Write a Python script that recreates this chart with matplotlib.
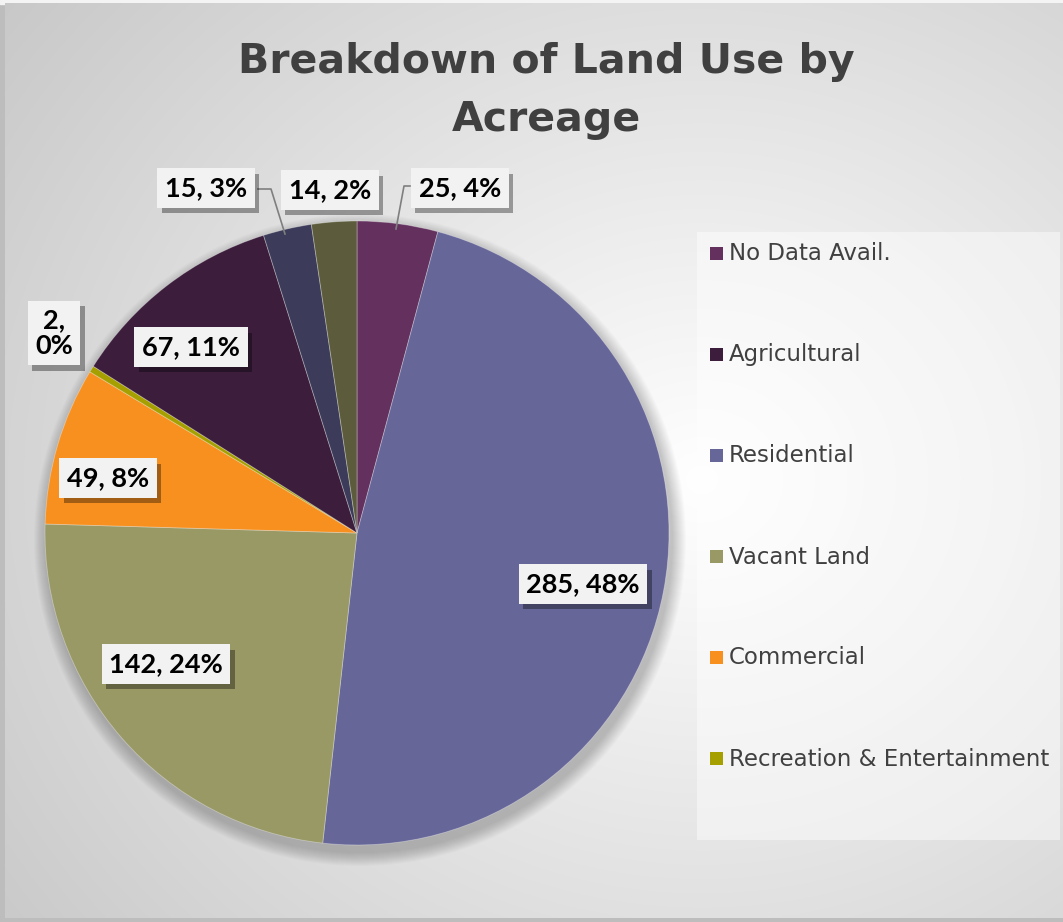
import numpy as np
import matplotlib
matplotlib.use("Agg")
import matplotlib.pyplot as plt
from matplotlib.patches import Rectangle, Circle
import matplotlib.patheffects as pe

# ---------------- data ----------------
categories = ["No Data Avail.", "Residential", "Vacant Land", "Commercial",
              "Recreation & Entertainment", "Agricultural", "Other (unlisted 1)",
              "Other (unlisted 2)"]
acres = [25, 285, 142, 49, 2, 67, 15, 14]
legend_categories = ["No Data Avail.", "Agricultural", "Residential",
                     "Vacant Land", "Commercial", "Recreation & Entertainment"]
title_lines = ["Breakdown of Land Use by", "Acreage"]

# ---------------- style ----------------
colors = ["#64315f", "#666699", "#999966", "#f7901e", "#a5a000",
          "#3c1e3c", "#3c3c5a", "#5c5c3c"]
W, H = 1063, 922
CX, CY, R = 357, 533, 312
# label centres in pixel coords (x, y from top)
label_pos = [(460, 188), (583, 584), (166, 664), (108, 478), (54, 333),
             (191, 347), (206, 188), (330, 190)]
FONT = ["Lato", "DejaVu Sans"]
WIDE = ["DejaVu Sans"]

fig = plt.figure(figsize=(W / 100, H / 100), dpi=100)
ax = fig.add_axes([0, 0, 1, 1])
ax.set_xlim(0, W)
ax.set_ylim(0, H)
ax.set_aspect("equal")
ax.axis("off")


def Y(y):
    return H - y


# background: outer frame + radial gradient panel
fig.patch.set_facecolor("#bdbdbd")
ax.add_patch(Rectangle((0, Y(4)), W, 4, color="#f4f4f4", zorder=0))
yy, xx = np.mgrid[0:H, 0:W]
d = np.sqrt(((xx - 700) / 700.0) ** 2 + ((yy - 480) / 620.0) ** 2)
val = 1.0 - 0.22 * np.clip(d, 0, 1.3) / 1.3
img = np.dstack([val, val, val])
ax.imshow(img, extent=[5, W, Y(918), Y(4)], origin="upper", zorder=0.5,
          aspect="auto", interpolation="bilinear")

# pie soft shadow
for i in range(14):
    ax.add_patch(Circle((CX + 3, Y(CY) - 7), R + 14 - i, color="black",
                        alpha=0.016, lw=0, zorder=1))

total = sum(acres)
wedges, _ = ax.pie(acres, colors=colors, startangle=90, counterclock=False,
                   center=(CX, Y(CY)), radius=R, frame=True,
                   wedgeprops=dict(linewidth=0.6, edgecolor=(1, 1, 1, 0.35)))
for w in wedges:
    w.set_zorder(2)
ax.set_xlim(0, W)
ax.set_ylim(0, H)
ax.axis("off")

# data labels
for v, (lx, ly) in zip(acres, label_pos):
    pct = round(v / total * 100)
    txt = f"{v},\n{pct}%" if v < 5 else f"{v}, {pct}%"
    t = ax.text(lx, Y(ly), txt, ha="center", va="center", fontsize=19.5,
                fontweight="bold", family=FONT, color="black", zorder=5,
                linespacing=1.05,
                bbox=dict(boxstyle="square,pad=0.28", fc="#f2f2f2", ec="none"))
    t.get_bbox_patch().set_path_effects(
        [pe.SimplePatchShadow(offset=(3, -4), shadow_rgbFace="black", alpha=0.35),
         pe.Normal()])

# leader lines
ax.plot([410, 404, 396], [Y(186), Y(186), Y(229)], color="#7f7f7f", lw=1.2, zorder=4)
ax.plot([258, 271, 285], [Y(189), Y(189), Y(234)], color="#7f7f7f", lw=1.2, zorder=4)

# title
for line, ty in zip(title_lines, [62, 120]):
    ax.text(546, Y(ty), line, ha="center", va="center", fontsize=29.5,
            fontweight="bold", family=WIDE, color="#404040", zorder=5)

# legend panel
ax.add_patch(Rectangle((697, Y(840)), 363, 608, fc="white", ec="none",
                       alpha=0.45, zorder=3))
col_of = dict(zip(categories, colors))
for i, name in enumerate(legend_categories):
    ly = 254 + i * 101
    ax.add_patch(Rectangle((710, Y(ly) - 6.5), 13, 13, fc=col_of[name],
                           ec="none", zorder=4))
    ax.text(729, Y(ly), name, ha="left", va="center", fontsize=16.5,
            family=WIDE, color="#404040", zorder=4)

fig.savefig("out.png", dpi=100)
